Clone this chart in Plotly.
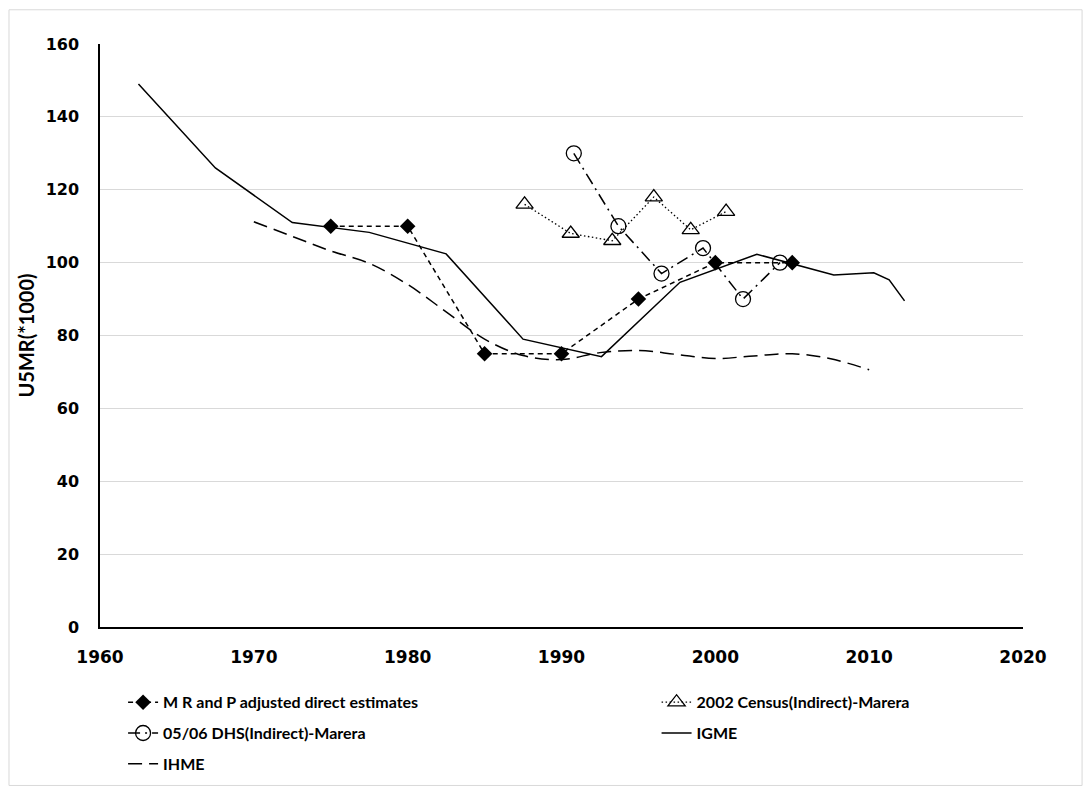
import plotly.graph_objects as go

# M R and P adjusted direct estimates
mrp_years = [1975, 1980, 1985, 1990, 1995, 2000, 2005]
mrp_vals = [110, 110, 75, 75, 90, 100, 100]

# 2002 Census (indirect) - Marera
census_years = [1987.6, 1990.6, 1993.3, 1996.0, 1998.4, 2000.7]
census_vals = [116, 108, 106, 118, 109, 114]

# 05/06 DHS (indirect) - Marera
dhs_years = [1990.8, 1993.7, 1996.5, 1999.2, 2001.8, 2004.2]
dhs_vals = [130, 110, 97, 104, 90, 100]

# IGME
igme_years = [1962.5, 1967.5, 1972.5, 1977.5, 1982.5, 1987.5, 1992.6,
              1997.7, 2002.7, 2007.7, 2010.3, 2011.3, 2012.3]
igme_vals = [149, 126, 111, 108.3, 102.4, 79, 74.2,
             94.6, 102.3, 96.6, 97.2, 95.3, 89.5]

# IHME
ihme_years = [1970, 1972.5, 1975, 1977.5, 1980, 1982.5, 1985, 1987.5,
              1990, 1992.5, 1995, 1997.5, 2000, 2002.5, 2005, 2007.5, 2010]
ihme_vals = [111.2, 107.2, 103.2, 99.8, 94, 86.5, 79, 74.5,
             73.4, 75.3, 75.9, 74.8, 73.7, 74.4, 75, 73.6, 70.6]

x_ticks = [1960, 1970, 1980, 1990, 2000, 2010, 2020]
y_ticks = [0, 20, 40, 60, 80, 100, 120, 140, 160]

fig = go.Figure()

# left legend column: MRP, DHS, IHME; right column: Census, IGME
fig.add_trace(go.Scatter(
    x=mrp_years, y=mrp_vals, name="M R and P adjusted direct estimates",
    mode="lines+markers", legend="legend", legendgroup="a",
    line=dict(color="black", width=1.5, dash="5px,4px"),
    marker=dict(symbol="diamond", size=12, color="black"),
))
fig.add_trace(go.Scatter(
    x=census_years, y=census_vals, name="2002 Census(Indirect)-Marera",
    mode="lines+markers", legend="legend2", legendgroup="b",
    line=dict(color="black", width=1.3, dash="1.5px,2.5px"),
    marker=dict(symbol="triangle-up-open", size=15, color="black",
                line=dict(width=1.3)),
))
fig.add_trace(go.Scatter(
    x=dhs_years, y=dhs_vals, name="05/06 DHS(Indirect)-Marera",
    mode="lines+markers", legend="legend", legendgroup="c",
    line=dict(color="black", width=1.5, dash="12px,5px,2px,5px"),
    marker=dict(symbol="circle-open", size=15, color="black",
                line=dict(width=1.3)),
))
fig.add_trace(go.Scatter(
    x=igme_years, y=igme_vals, name="IGME",
    mode="lines", legend="legend2", legendgroup="d",
    line=dict(color="black", width=1.5),
))
fig.add_trace(go.Scatter(
    x=ihme_years, y=ihme_vals, name="IHME",
    mode="lines", legend="legend", legendgroup="e",
    line=dict(color="black", width=1.5, dash="14px,7px", shape="spline",
              smoothing=1),
))

# light frame around the whole chart
fig.add_shape(type="rect", xref="paper", yref="paper",
              x0=-0.0986, x1=1.064, y0=-0.2718, y1=1.0587,
              line=dict(color="#d9d9d9", width=1))

legend_font = dict(family="Lato", size=16, weight="bold", color="black")
legend_common = dict(
    orientation="v", yanchor="top", xanchor="left",
    bgcolor="rgba(0,0,0,0)", font=legend_font,
    traceorder="grouped", tracegroupgap=7,
)

# page body adds an 8px offset, so the figure is a bit smaller than the window
fig.update_layout(
    width=1083, height=788,
    margin=dict(l=92, r=68, t=36, b=169, autoexpand=False),
    paper_bgcolor="white", plot_bgcolor="white",
    font=dict(family="DejaVu Sans", color="black"),
    legend=dict(x=0.025, y=-0.1, **legend_common),
    legend2=dict(x=0.603, y=-0.1, **legend_common),
    xaxis=dict(
        range=[1960, 2020], tickvals=x_ticks,
        showgrid=False, zeroline=False, automargin=False,
        showline=True, linecolor="black", linewidth=1.5,
        ticks="", ticklabelstandoff=14,
        tickfont=dict(family="DejaVu Sans", size=17, weight="bold"),
    ),
    yaxis=dict(
        range=[0, 160], tickvals=y_ticks,
        showgrid=True, gridcolor="#d9d9d9", gridwidth=1,
        zeroline=False, automargin=False,
        showline=True, linecolor="black", linewidth=1.5,
        ticks="", ticklabelstandoff=16,
        tickfont=dict(family="DejaVu Sans", size=16, weight="bold"),
        title=dict(text="U5MR(*1000)", standoff=6,
                   font=dict(family="Lato", size=20, weight="bold")),
    ),
)

fig.write_html("out.html")
